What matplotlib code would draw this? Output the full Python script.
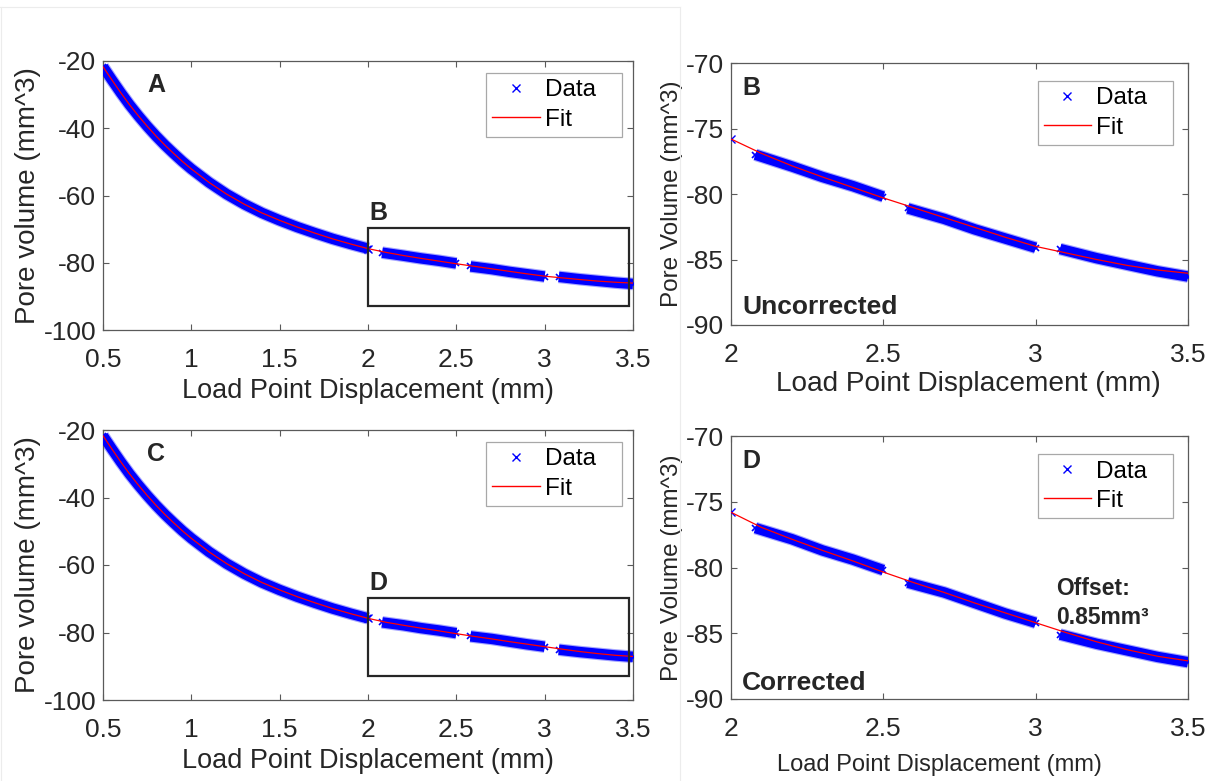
import matplotlib
matplotlib.use("Agg")
import matplotlib.pyplot as plt
from matplotlib.ticker import FuncFormatter, FixedLocator
from matplotlib.lines import Line2D
from matplotlib.patches import Rectangle

plt.rcParams['font.family'] = ['Liberation Sans', 'DejaVu Sans']

# ---------------- data ----------------
# continuous loading part (shared by A and C)
main_x = [0.50, 0.55, 0.60, 0.65, 0.70, 0.75, 0.80, 0.85, 0.90, 0.95, 1.00,
          1.10, 1.20, 1.30, 1.40, 1.50, 1.60, 1.70, 1.80, 1.90, 2.00]
main_y = [-21.7, -25.6, -29.4, -33.0, -36.3, -39.4, -42.3, -45.0, -47.5, -49.9, -52.1,
          -56.1, -59.6, -62.6, -65.2, -67.4, -69.4, -71.2, -72.9, -74.4, -75.8]

# single point at start of zoomed window
start_x = [2.0]
start_y = [-75.8]

# measured segments (after 2 mm)
seg1_x = [2.08, 2.20, 2.30, 2.40, 2.50]
seg2_x = [2.58, 2.70, 2.80, 2.90, 3.00]
seg3_x = [3.08, 3.20, 3.30, 3.40, 3.50]
seg1_unc = [-77.0, -77.9, -78.7, -79.4, -80.2]
seg2_unc = [-81.1, -81.9, -82.7, -83.4, -84.1]
seg3_unc = [-84.2, -84.9, -85.4, -85.9, -86.3]
seg1_cor = [-77.0, -77.85, -78.7, -79.4, -80.2]
seg2_cor = [-81.15, -81.9, -82.7, -83.5, -84.2]
seg3_cor = [-85.1, -85.8, -86.3, -86.8, -87.2]

# fitted curves
fit_x = main_x + [2.1, 2.2, 2.3, 2.4, 2.5, 2.6, 2.7, 2.8, 2.9, 3.0,
                  3.1, 3.2, 3.3, 3.4, 3.5]
fit_unc = main_y + [-76.9, -77.85, -78.7, -79.5, -80.3, -81.05, -81.8, -82.55, -83.3, -84.0,
                    -84.5, -85.0, -85.45, -85.8, -86.05]
fit_cor = main_y + [-76.95, -77.85, -78.7, -79.5, -80.35, -81.15, -81.9, -82.7, -83.45, -84.2,
                    -84.95, -85.65, -86.25, -86.75, -87.1]

# zoom window drawn on A and C
inset_x = (2.0, 3.48)
inset_y = (-92.9, -69.7)

full_xticks = [0.5, 1, 1.5, 2, 2.5, 3, 3.5]
full_yticks = [-100, -80, -60, -40, -20]
zoom_xticks = [2, 2.5, 3, 3.5]
zoom_yticks = [-90, -85, -80, -75, -70]

# ---------------- drawing ----------------
W, H = 1215, 781
fig = plt.figure(figsize=(W / 100, H / 100), dpi=100)

TXT = '#262626'
SPINE = '#5a5a5a'
BLUE = '#0000ff'
RED = '#ff0000'


def frac(l, t, r, b):
    return [l / W, 1 - b / H, (r - l) / W, (b - t) / H]


axA = fig.add_axes(frac(103, 61, 633, 330))
axC = fig.add_axes(frac(103, 430, 633, 700))
axB = fig.add_axes(frac(731, 63, 1188, 325))
axD = fig.add_axes(frac(731, 436, 1188, 699))

fmt = FuncFormatter(lambda v, p: '%g' % v)


def style(ax, xt, yt, tick_fs=19):
    ax.set_xlim(xt[0], xt[-1])
    ax.set_ylim(yt[0], yt[-1])
    ax.xaxis.set_major_locator(FixedLocator(xt))
    ax.yaxis.set_major_locator(FixedLocator(yt))
    ax.xaxis.set_major_formatter(fmt)
    ax.yaxis.set_major_formatter(fmt)
    ax.tick_params(direction='in', length=4, width=0.8, color=SPINE,
                   top=True, right=True, labelsize=tick_fs, labelcolor=TXT)
    ax.tick_params(axis='x', pad=13)
    ax.tick_params(axis='y', pad=5)
    for s in ax.spines.values():
        s.set_color(SPINE)
        s.set_linewidth(0.9)


def draw_data(ax, segs, lw):
    for xs, ys in segs:
        ax.plot(xs, ys, color=BLUE, lw=lw + 1.6, alpha=0.35, solid_capstyle='butt', zorder=2)
        ax.plot(xs, ys, color=BLUE, lw=lw, solid_capstyle='butt', zorder=3)
        ax.plot(xs, ys, ls='none', marker='x', ms=5, mew=1.2, color=BLUE, zorder=3)
    ax.plot(start_x, start_y, ls='none', marker='x', ms=6, mew=1.0, color=BLUE, zorder=3)


def legend(ax, bbox):
    h = [Line2D([], [], ls='none', marker='x', ms=6, mew=1.0, color=BLUE),
         Line2D([], [], color=RED, lw=1.0)]
    lg = ax.legend(h, ['Data   ', 'Fit   '], loc='upper right', bbox_to_anchor=bbox,
                   fontsize=17.5, frameon=True, fancybox=False, framealpha=1,
                   edgecolor='#a8a8a8', handlelength=1.95, handletextpad=0.2,
                   labelspacing=0.3, borderpad=0.25, borderaxespad=0)
    lg.get_frame().set_linewidth(0.9)
    for t in lg.get_texts():
        t.set_color('black')


# ---- A ----
segsA = [(main_x, main_y), (seg1_x, seg1_unc), (seg2_x, seg2_unc), (seg3_x, seg3_unc)]
draw_data(axA, segsA, 7.5)
axA.plot(fit_x, fit_unc, color=RED, lw=0.9, zorder=4)
style(axA, full_xticks, full_yticks)
axA.set_ylabel('Pore volume (mm^3)', fontsize=20, color=TXT, labelpad=2)
axA.set_xlabel('Load Point Displacement (mm)', fontsize=19.5, color=TXT, labelpad=4)
axA.add_patch(Rectangle((inset_x[0], inset_y[0]), inset_x[1] - inset_x[0],
                        inset_y[1] - inset_y[0], fill=False, ec=TXT, lw=1.6, zorder=5))
axA.text(0.75, -27.1, 'A', fontsize=18, fontweight='bold', color=TXT, va='center')
axA.text(2.01, -65.3, 'B', fontsize=18, fontweight='bold', color=TXT, va='center')
legend(axA, (0.979, 0.955))

# ---- C ----
segsC = [(main_x, main_y), (seg1_x, seg1_cor), (seg2_x, seg2_cor), (seg3_x, seg3_cor)]
draw_data(axC, segsC, 7.5)
axC.plot(fit_x, fit_cor, color=RED, lw=0.9, zorder=4)
style(axC, full_xticks, full_yticks)
axC.set_ylabel('Pore volume (mm^3)', fontsize=20, color=TXT, labelpad=2)
axC.set_xlabel('Load Point Displacement (mm)', fontsize=19.5, color=TXT, labelpad=4)
axC.add_patch(Rectangle((inset_x[0], inset_y[0]), inset_x[1] - inset_x[0],
                        inset_y[1] - inset_y[0], fill=False, ec=TXT, lw=1.6, zorder=5))
axC.text(0.75, -27.1, 'C', fontsize=18, fontweight='bold', color=TXT, va='center')
axC.text(2.01, -65.3, 'D', fontsize=18, fontweight='bold', color=TXT, va='center')
legend(axC, (0.979, 0.955))

# ---- B ----
segsB = [(seg1_x, seg1_unc), (seg2_x, seg2_unc), (seg3_x, seg3_unc)]
draw_data(axB, segsB, 7.5)
axB.plot(fit_x, fit_unc, color=RED, lw=0.9, zorder=4)
style(axB, zoom_xticks, zoom_yticks)
axB.set_ylabel('Pore Volume (mm^3)', fontsize=17.5, color=TXT, labelpad=2)
axB.set_xlabel('Load Point Displacement (mm)', fontsize=20.2, color=TXT, labelpad=3)
axB.xaxis.label.set_x(0.52)
axB.text(0.024, 0.905, 'B', transform=axB.transAxes, fontsize=18, fontweight='bold',
         color=TXT, va='center')
axB.text(0.024, 0.07, 'Uncorrected', transform=axB.transAxes, fontsize=19,
         fontweight='bold', color=TXT, va='center')
legend(axB, (0.968, 0.93))

# ---- D ----
segsD = [(seg1_x, seg1_cor), (seg2_x, seg2_cor), (seg3_x, seg3_cor)]
draw_data(axD, segsD, 7.5)
axD.plot(fit_x, fit_cor, color=RED, lw=0.9, zorder=4)
style(axD, zoom_xticks, zoom_yticks)
axD.set_ylabel('Pore Volume (mm^3)', fontsize=17.5, color=TXT, labelpad=2)
axD.set_xlabel('Load Point Displacement (mm)', fontsize=17, color=TXT, labelpad=9)
axD.xaxis.label.set_x(0.457)
axD.text(0.024, 0.905, 'D', transform=axD.transAxes, fontsize=18, fontweight='bold',
         color=TXT, va='center')
axD.text(0.024, 0.062, 'Corrected', transform=axD.transAxes, fontsize=19,
         fontweight='bold', color=TXT, va='center')
axD.text(0.711, 0.365, 'Offset:\n0.85mm\u00b3', transform=axD.transAxes, fontsize=16.5,
         fontweight='bold', color=TXT, va='center', linespacing=1.35)
legend(axD, (0.968, 0.93))

# faint panel borders of the pasted sub-figures
fig.add_artist(Line2D([0, 680 / W], [1 - 7 / H, 1 - 7 / H], color='#ececec', lw=0.8))
fig.add_artist(Line2D([680 / W, 680 / W], [0, 1 - 7 / H], color='#ececec', lw=0.8))
fig.add_artist(Line2D([1 / W, 1 / W], [0, 1 - 7 / H], color='#ececec', lw=0.8))

fig.savefig('out.png', dpi=100)
